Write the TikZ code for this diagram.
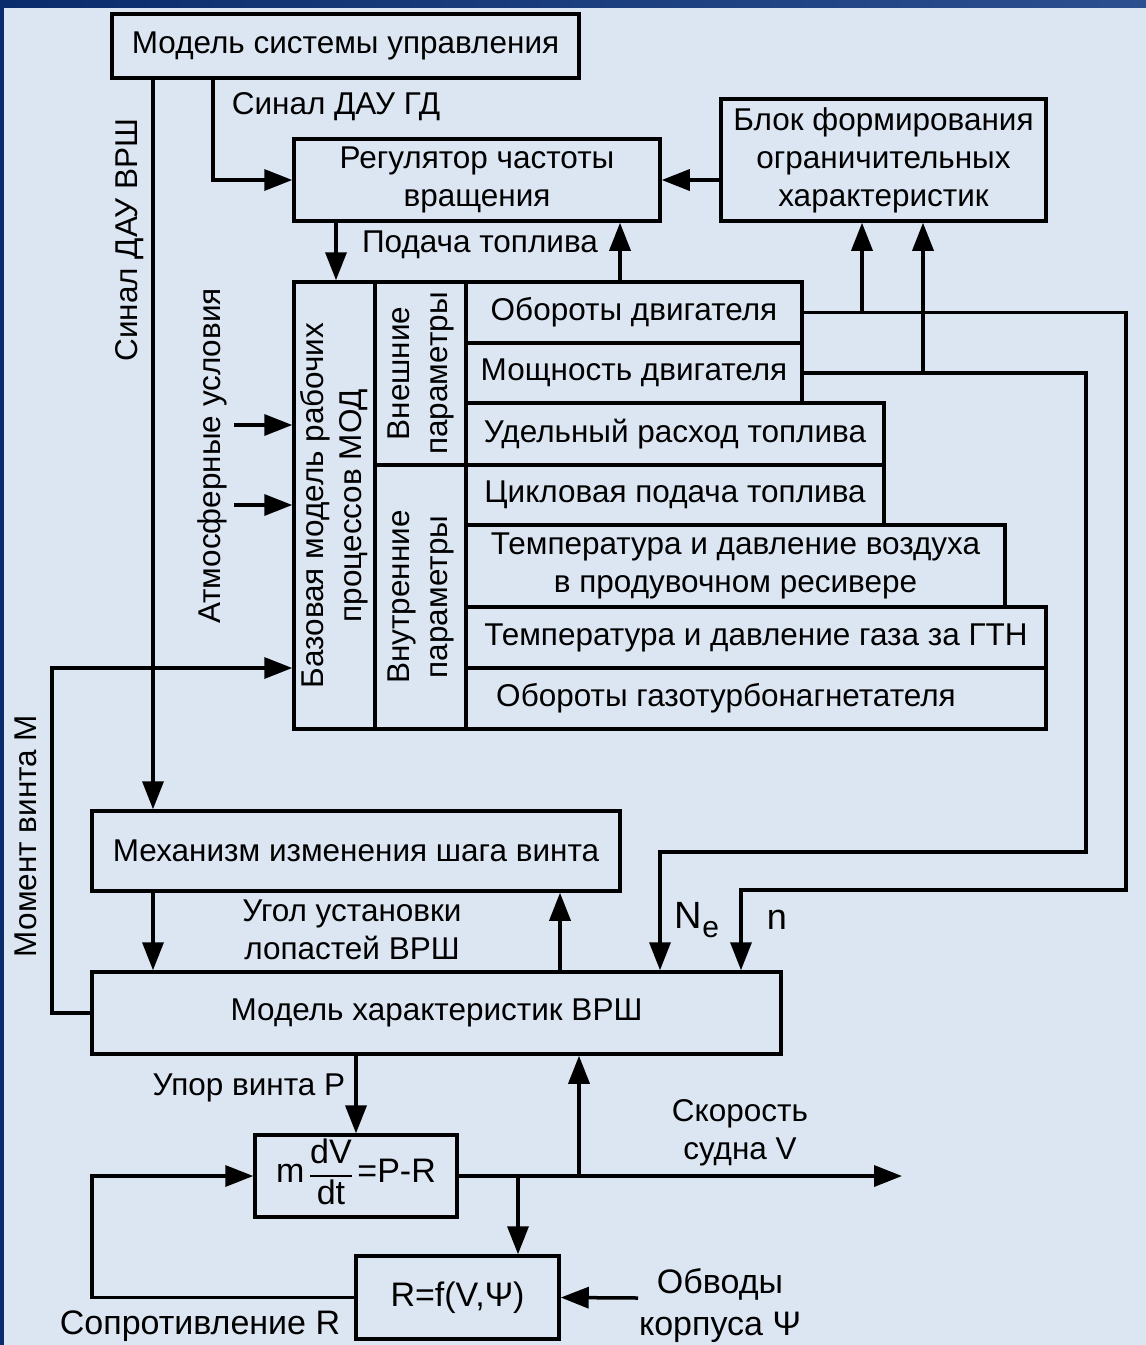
\documentclass[tikz,border=0pt]{standalone}
\usepackage{fontspec}
\setmainfont{Liberation Sans}
\usetikzlibrary{arrows.meta,calc}
\definecolor{bgc}{HTML}{DCE6F2}
\definecolor{bandL}{HTML}{0B2C6C}
\definecolor{bandR}{HTML}{2B4F8F}
\begin{document}
\begin{tikzpicture}[x=1pt,y=-1pt,
  every node/.style={font=\fontsize{31.5}{38}\selectfont},
  big/.style={font=\fontsize{34}{42}\selectfont},
  blockbox/.style={draw=black,line width=3.5pt,inner sep=0pt,align=center},
  conn/.style={line width=3.5pt,line join=miter},
  arr/.style={conn,-{Triangle[length=28pt,width=21pt]}},
  lbl/.style={inner sep=0pt,align=center}]
\useasboundingbox (0,0) rectangle (1146,1345);
\fill[bgc] (0,0) rectangle (1146,1345);
\shade[left color=bandL,right color=bandR] (0,0) rectangle (1146,7);
\fill[bandL] (0,0) rectangle (4,1345);

% boxes
\node[blockbox,minimum width=467pt,minimum height=64pt] (msu) at (345.5,46) {Модель системы управления};
\node[blockbox,minimum width=366pt,minimum height=82pt] (reg) at (477,180) {Регулятор частоты\\вращения};
\node[blockbox,minimum width=325pt,minimum height=122pt] (blk) at (883.5,160) {Блок формирования\\ограничительных\\характеристик};
\node[blockbox,minimum width=81pt,minimum height=447pt] (base) at (334.5,505.5) {};
\node[lbl,rotate=90] (baset) at (base.center) {Базовая модель рабочих\\процессов МОД};
\node[blockbox,minimum width=91pt,minimum height=183pt] (ext) at (420.5,373.5) {};
\node[lbl,rotate=90] (extt) at (ext.center) {Внешние\\параметры};
\node[blockbox,minimum width=91pt,minimum height=264pt] (int) at (420.5,597) {};
\node[lbl,rotate=90] (intt) at (int.center) {Внутренние\\параметры};
\node[blockbox,minimum width=336pt,minimum height=61pt] (r1) at (634,312.5) {Обороты двигателя};
\node[blockbox,minimum width=336pt,minimum height=60pt] (r2) at (634,373) {Мощность двигателя};
\node[blockbox,minimum width=418pt,minimum height=62pt] (r3) at (675,434) {Удельный расход топлива};
\node[blockbox,minimum width=418pt,minimum height=60pt] (r4) at (675,495) {Цикловая подача топлива};
\node[blockbox,minimum width=539pt,minimum height=82pt] (r5) at (735.5,566) {Температура и давление воздуха\\в продувочном ресивере};
\node[blockbox,minimum width=580pt,minimum height=61pt] (r6) at (756,637.5) {Температура и давление газа за ГТН};
\node[blockbox,minimum width=580pt,minimum height=61pt] (r7) at (756,698.5) {};
\node[lbl] (r7t) at (726,698.5) {Обороты газотурбонагнетателя};
\node[blockbox,minimum width=528pt,minimum height=80pt] (mech) at (356,851) {Механизм изменения шага винта};
\node[blockbox,minimum width=689pt,minimum height=82pt] (vrsh) at (436.5,1013) {Модель характеристик ВРШ};
\node[blockbox,minimum width=202pt,minimum height=80pt,big] (eq) at (356,1176)
  {m\,{\setlength{\arrayrulewidth}{2pt}\renewcommand{\arraystretch}{0.95}\begin{tabular}{@{}c@{}}dV\\\hline dt\end{tabular}}\,=P-R};
\node[blockbox,minimum width=203pt,minimum height=83pt,big] (rf) at (457.5,1297.5) {R=f(V,Ψ)};

% helper coordinates
\coordinate (xA) at (153,0);
\coordinate (xB) at (213,0);
\coordinate (xC) at (336,0);
\coordinate (xD) at (620,0);
\coordinate (xE) at (862,0);
\coordinate (xF) at (923,0);
\coordinate (xG) at (560,0);
\coordinate (xH) at (579,0);
\coordinate (xI) at (518,0);
\coordinate (nTurn) at (1126,890);
\coordinate (nx) at (741,0);
\coordinate (neTurn) at (1086,852);
\coordinate (nex) at (660,0);
\coordinate (atm1) at (234,425);
\coordinate (atm2) at (234,505);
\coordinate (mt) at (52,668);
\coordinate (vend) at (902,1176);
\coordinate (obv) at (638,1298);
\coordinate (fb) at (92,1176);

% connectors
\draw[arr] (msu.south -| xA) -- (mech.north -| xA);
\draw[arr] (msu.south -| xB) |- (reg.west);
\draw[arr] (reg.east -| blk.west) -- (reg.east);
\draw[arr] (reg.south -| xC) -- (base.north -| xC);
\draw[arr] (r1.north -| xD) -- (reg.south -| xD);
\draw[arr] (r1.east) -| (nTurn) -| (vrsh.north -| nx);
\draw[arr] (r2.east) -| (neTurn) -| (vrsh.north -| nex);
\draw[arr] (r1.east -| xE) -- (blk.south -| xE);
\draw[arr] (r2.east -| xF) -- (blk.south -| xF);
\draw[arr] (atm1) -- (atm1 -| base.west);
\draw[arr] (atm2) -- (atm2 -| base.west);
\draw[arr] (vrsh.west) -| (mt) -- (mt -| base.west);
\draw[arr] (mech.south -| xA) -- (vrsh.north -| xA);
\draw[arr] (vrsh.north -| xG) -- (mech.south -| xG);
\draw[arr] (vrsh.south -| eq.north) -- (eq.north);
\draw[arr] (eq.east) -- (vend);
\draw[arr] (eq.east -| xH) -- (vrsh.south -| xH);
\draw[arr] (eq.east -| xI) -- (rf.north -| xI);
\draw[arr] (obv) -- (rf.east);
\draw[arr] (rf.west) -| (fb) -- (eq.west);

% labels
\node[lbl,rotate=90] (l1) at (130,240) {Синал ДАУ ВРШ};
\node[lbl] (l2) at (336,107) {Синал ДАУ ГД};
\node[lbl] (l3) at (480,245) {Подача топлива};
\node[lbl,rotate=90] (l4) at (212,456) {Атмосферные условия};
\node[lbl,rotate=90] (l5) at (26,836) {Момент винта М};
\node[lbl] (l6) at (352,930) {Угол установки\\лопастей ВРШ};
\node[lbl,font=\fontsize{38}{40}\selectfont] (l7) at (697,920) {N\raisebox{-9pt}{\fontsize{30}{30}\selectfont e}};
\node[lbl,font=\fontsize{36}{40}\selectfont] (l8) at (777,920) {n};
\node[lbl] (l9) at (249,1088) {Упор винта Р};
\node[lbl] (l10) at (740,1133) {Скорость\\судна V};
\node[lbl,big] (l11) at (720,1306) {Обводы\\корпуса Ψ};
\node[lbl,big] (l12) at (200,1326) {Сопротивление R};
\end{tikzpicture}
\end{document}
